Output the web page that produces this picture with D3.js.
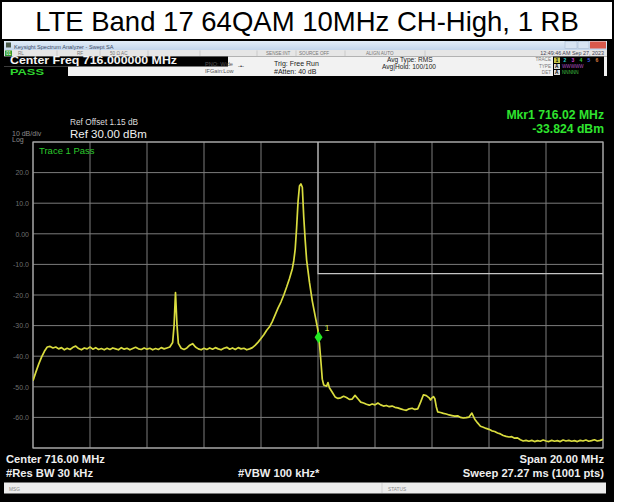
<!DOCTYPE html>
<html>
<head>
<meta charset="utf-8">
<script src="https://cdn.jsdelivr.net/npm/d3@7"></script>
<style>
  html, body { margin: 0; padding: 0; background: #fff; }
  svg { display: block; font-family: "Liberation Sans", Arial, sans-serif; }
</style>
</head>
<body>
<svg id="chart" width="629" height="503"></svg>
<script>
// ---- chart values ----
const chartTitle = "LTE Band 17 64QAM 10MHz CH-High, 1 RB";
const freqDomain = [706, 726];          // start / stop frequency, MHz
const levelDomain = [-70, 30];          // bottom / reference level, dBm
const freqGrid = [706, 708, 710, 712, 714, 716, 718, 720, 722, 724, 726];
const levelGrid = [30, 20, 10, 0, -10, -20, -30, -40, -50, -60, -70];
const levelTickValues = [20, 10, 0, -10, -20, -30, -40, -50, -60];
const levelTickLabels = ["20.0", "10.0", "0.00", "-10.0", "-20.0", "-30.0", "-40.0", "-50.0", "-60.0"];

// measured trace: [frequency MHz, level dBm]
const sweep = [
  [706.0, -48.0], [706.1, -45.2], [706.2, -42.6], [706.3, -40.3], [706.4, -38.4],
  [706.5, -37.0], [706.6, -36.8], [706.7, -37.3], [706.8, -37.0], [706.9, -37.6],
  [707.0, -37.2], [707.1, -37.9], [707.2, -37.4], [707.3, -37.8], [707.4, -37.1],
  [707.5, -36.7], [707.6, -37.5], [707.7, -37.9], [707.8, -37.3], [707.9, -37.6],
  [708.0, -37.0], [708.1, -37.7], [708.2, -37.2], [708.3, -37.8], [708.4, -37.5],
  [708.5, -37.9], [708.6, -37.4], [708.7, -37.8], [708.8, -37.3], [708.9, -37.6],
  [709.0, -37.9], [709.1, -37.2], [709.2, -37.7], [709.3, -37.4], [709.4, -37.9],
  [709.5, -37.5], [709.6, -37.1], [709.7, -37.6], [709.8, -37.8], [709.9, -37.3],
  [710.0, -37.7], [710.1, -37.4], [710.2, -37.9], [710.3, -37.5], [710.4, -37.8],
  [710.5, -37.2], [710.6, -37.6], [710.7, -37.3], [710.8, -37.0], [710.9, -35.5],
  [710.95, -30.0], [711.0, -19.2], [711.05, -29.5], [711.1, -35.8], [711.2, -37.4],
  [711.3, -37.8], [711.4, -37.3], [711.5, -36.4], [711.6, -35.9], [711.7, -37.0],
  [711.8, -37.6], [711.9, -37.9], [712.0, -37.4], [712.1, -37.8], [712.2, -37.3],
  [712.3, -37.7], [712.4, -37.2], [712.5, -37.6], [712.6, -37.9], [712.7, -37.4],
  [712.8, -37.1], [712.9, -37.7], [713.0, -37.3], [713.1, -37.8], [713.2, -37.2],
  [713.3, -37.6], [713.4, -37.4], [713.5, -37.9], [713.6, -37.6], [713.7, -37.2],
  [713.8, -36.4], [713.9, -35.4], [714.0, -34.2], [714.1, -33.0], [714.2, -31.5],
  [714.3, -30.4], [714.4, -28.6], [714.5, -26.4], [714.6, -24.2], [714.7, -22.3],
  [714.8, -20.0], [714.9, -17.4], [715.0, -14.6], [715.1, -11.4], [715.15, -8.8],
  [715.2, -5.0], [715.25, 2.0], [715.3, 10.5], [715.35, 15.6], [715.4, 16.3],
  [715.45, 15.2], [715.5, 5.5], [715.55, -2.0], [715.6, -8.5], [715.7, -15.8],
  [715.8, -22.0], [715.9, -26.8], [716.0, -31.6], [716.02, -33.824], [716.05, -35.8],
  [716.1, -41.5], [716.15, -47.5], [716.2, -49.4], [716.3, -49.8], [716.35, -48.6],
  [716.4, -50.3], [716.5, -51.8], [716.6, -53.3], [716.7, -53.8], [716.8, -53.6],
  [716.9, -53.1], [717.0, -53.5], [717.1, -54.1], [717.2, -54.0], [717.3, -52.8],
  [717.4, -53.9], [717.5, -55.0], [717.6, -55.3], [717.7, -55.7], [717.8, -56.0],
  [717.9, -55.6], [718.0, -55.9], [718.1, -55.3], [718.2, -55.9], [718.3, -56.3],
  [718.4, -56.1], [718.5, -56.5], [718.6, -56.3], [718.7, -56.7], [718.8, -56.9],
  [718.9, -57.2], [719.0, -57.5], [719.1, -57.7], [719.2, -57.2], [719.3, -57.0],
  [719.4, -57.4], [719.5, -57.2], [719.6, -55.0], [719.7, -52.6], [719.8, -52.9],
  [719.9, -53.6], [719.95, -54.3], [720.0, -53.6], [720.05, -53.2], [720.1, -53.9],
  [720.15, -56.5], [720.2, -58.2], [720.3, -58.4], [720.4, -58.7], [720.5, -58.9],
  [720.6, -59.2], [720.7, -59.4], [720.8, -59.6], [720.9, -59.5], [721.0, -60.0],
  [721.1, -60.2], [721.2, -60.1], [721.3, -59.9], [721.4, -58.6], [721.5, -60.6],
  [721.6, -61.8], [721.7, -62.9], [721.8, -63.2], [721.9, -63.6], [722.0, -63.9],
  [722.1, -64.4], [722.2, -64.6], [722.3, -65.1], [722.4, -65.4], [722.5, -65.9],
  [722.6, -66.2], [722.7, -66.4], [722.8, -66.3], [722.9, -66.8], [723.0, -66.7],
  [723.1, -67.3], [723.2, -67.7], [723.3, -67.5], [723.4, -67.8], [723.5, -67.5],
  [723.6, -67.9], [723.7, -67.6], [723.8, -67.8], [723.9, -67.4], [724.0, -67.7],
  [724.1, -67.9], [724.2, -67.5], [724.3, -67.8], [724.4, -67.6], [724.5, -67.9],
  [724.6, -67.4], [724.7, -67.7], [724.8, -67.5], [724.9, -67.8], [725.0, -67.6],
  [725.1, -67.9], [725.2, -67.5], [725.3, -67.7], [725.4, -67.4], [725.5, -67.8],
  [725.6, -67.6], [725.7, -67.3], [725.8, -67.7], [725.9, -67.5], [726.0, -67.2]
];

// emission limit line (-13 dBm above the channel edge)
const limitFreq = [716, 716, 726];
const limitLevel = [30, -13, -13];

const markerFreq = 716.02;
const markerLevel = -33.824;
const markerId = "1";

// ---- drawing ----
const svg = d3.select("#chart");
const plot = { left: 33, right: 603, top: 142, bottom: 448 };

const x = d3.scaleLinear().domain(freqDomain).range([plot.left, plot.right]);
const y = d3.scaleLinear().domain(levelDomain).range([plot.bottom, plot.top]);

// page, frame and heading
svg.append("rect").attr("width", 629).attr("height", 503).attr("fill", "#fff");
svg.append("rect").attr("x", 1).attr("y", 39).attr("width", 611).attr("height", 461).attr("fill", "#000");
svg.append("rect").attr("x", 1).attr("y", 1).attr("width", 612).attr("height", 500)
  .attr("fill", "none").attr("stroke", "#000").attr("stroke-width", 2);
svg.append("text").attr("x", 307).attr("y", 31).attr("text-anchor", "middle")
  .attr("font-size", 27.5).attr("fill", "#000").text(chartTitle);

// window title bar
const defs = svg.append("defs");
const tb = defs.append("linearGradient").attr("id", "titleBar").attr("x1", 0).attr("x2", 0).attr("y1", 0).attr("y2", 1);
tb.append("stop").attr("offset", "0%").attr("stop-color", "#e3edf8");
tb.append("stop").attr("offset", "100%").attr("stop-color", "#c3d6ec");
svg.append("rect").attr("x", 4).attr("y", 41).attr("width", 603).attr("height", 9).attr("fill", "url(#titleBar)");
svg.append("rect").attr("x", 6).attr("y", 42.5).attr("width", 5).attr("height", 5).attr("fill", "#4a5a4a");
svg.append("text").attr("x", 14).attr("y", 48.5).attr("font-size", 5.6).attr("fill", "#3a4a66")
  .text("Keysight Spectrum Analyzer - Swept SA");
svg.append("rect").attr("x", 565).attr("y", 41.5).attr("width", 12).attr("height", 7).attr("fill", "#d8e4f2").attr("stroke", "#9fb3cc").attr("stroke-width", 0.5);
svg.append("rect").attr("x", 578).attr("y", 41.5).attr("width", 11).attr("height", 7).attr("fill", "#d8e4f2").attr("stroke", "#9fb3cc").attr("stroke-width", 0.5);
svg.append("rect").attr("x", 590).attr("y", 41.5).attr("width", 16).attr("height", 7).attr("fill", "#d9584c");

// status row
svg.append("rect").attr("x", 4).attr("y", 50).attr("width", 603).attr("height", 6.5).attr("fill", "#e6e6e6");
svg.append("rect").attr("x", 5).attr("y", 50.5).attr("width", 7).attr("height", 5.5).attr("fill", "#2c9a2c");
svg.append("text").attr("x", 6).attr("y", 54.8).attr("font-size", 4.5).attr("fill", "#fff").text("01");
const rowItems = [["RL", 18], ["RF", 77], ["50 Ω  AC", 110], ["SENSE:INT", 266], ["SOURCE OFF", 299], ["ALIGN AUTO", 366]];
rowItems.forEach(([t, px]) => svg.append("text").attr("x", px).attr("y", 54.8).attr("font-size", 4.6).attr("fill", "#777").text(t));
[57, 100, 148, 200, 257, 296, 345, 425].forEach(px =>
  svg.append("line").attr("x1", px).attr("x2", px).attr("y1", 50.5).attr("y2", 56).attr("stroke", "#b8b8b8").attr("stroke-width", 0.6));
svg.append("text").attr("x", 604).attr("y", 54.8).attr("text-anchor", "end").attr("font-size", 5.4).attr("fill", "#445").text("12:49:46 AM Sep 27, 2023");

// settings panel
svg.append("rect").attr("x", 4).attr("y", 56.5).attr("width", 603).attr("height", 19.5).attr("fill", "#f2f2f2");
svg.append("rect").attr("x", 4).attr("y", 56.5).attr("width", 224).attr("height", 10).attr("fill", "#000");
svg.append("rect").attr("x", 4).attr("y", 66.5).attr("width", 64).attr("height", 9.5).attr("fill", "#000");
svg.append("text").attr("x", 10).attr("y", 64.2).attr("font-size", 10.4).attr("font-weight", "bold").attr("fill", "#f4f4f4")
  .attr("textLength", 167).attr("lengthAdjust", "spacingAndGlyphs")
  .text("Center Freq 716.000000 MHz");
svg.append("text").attr("x", 10).attr("y", 75.2).attr("font-size", 9.6).attr("font-weight", "bold").attr("fill", "#2fd52f")
  .attr("textLength", 34).attr("lengthAdjust", "spacingAndGlyphs").text("PASS");
svg.append("text").attr("x", 205).attr("y", 66).attr("font-size", 5.6).attr("fill", "#555").text("PNO: Wide");
svg.append("text").attr("x", 205).attr("y", 73).attr("font-size", 5.6).attr("fill", "#555").text("IFGain:Low");
svg.append("text").attr("x", 238).attr("y", 67.5).attr("font-size", 6).attr("fill", "#333").text("-•-");
svg.append("text").attr("x", 274).attr("y", 65.5).attr("font-size", 7).attr("fill", "#222").text("Trig: Free Run");
svg.append("text").attr("x", 274).attr("y", 73.5).attr("font-size", 7).attr("fill", "#222").text("#Atten: 40 dB");
svg.append("text").attr("x", 387).attr("y", 62).attr("font-size", 6.6).attr("fill", "#222").text("Avg Type: RMS");
svg.append("text").attr("x", 382).attr("y", 69).attr("font-size", 6.6).attr("fill", "#222").text("Avg|Hold: 100/100");

// trace legend block
[["TRACE", 61], ["TYPE", 67.5], ["DET", 74]].forEach(([t, py]) =>
  svg.append("text").attr("x", 551).attr("y", py).attr("text-anchor", "end").attr("font-size", 4.6).attr("fill", "#777").text(t));
svg.append("rect").attr("x", 553).attr("y", 56.5).attr("width", 51).attr("height", 19.5).attr("fill", "#000");
svg.append("rect").attr("x", 554).attr("y", 57.5).attr("width", 6).attr("height", 5.5).attr("fill", "#c8c84a");
const traceDigits = [["1", "#000"], ["2", "#2ad4d4"], ["3", "#d040d0"], ["4", "#40d040"], ["5", "#4060f0"], ["6", "#e08040"]];
traceDigits.forEach(([t, c], i) =>
  svg.append("text").attr("x", 555.5 + i * 8).attr("y", 62.2).attr("font-size", 5).attr("font-weight", "bold").attr("fill", c).text(t));
svg.append("rect").attr("x", 554).attr("y", 64).attr("width", 6).attr("height", 5).attr("fill", "#ddd");
svg.append("text").attr("x", 555).attr("y", 68.4).attr("font-size", 4.8).attr("font-weight", "bold").attr("fill", "#000").text("A");
svg.append("text").attr("x", 562).attr("y", 68.4).attr("font-size", 4.6).attr("fill", "#b050c0").text("WWWWW");
svg.append("rect").attr("x", 554).attr("y", 70).attr("width", 6).attr("height", 5).attr("fill", "#ddd");
svg.append("text").attr("x", 555).attr("y", 74.4).attr("font-size", 4.8).attr("font-weight", "bold").attr("fill", "#000").text("A");
svg.append("text").attr("x", 562).attr("y", 74.4).attr("font-size", 4.6).attr("fill", "#40c040").text("NNNNN");

// reference annotations
svg.append("text").attr("x", 70).attr("y", 125).attr("font-size", 8.3).attr("fill", "#dcdcdc").text("Ref Offset 1.15 dB");
svg.append("text").attr("x", 70).attr("y", 137.5).attr("font-size", 11.5).attr("fill", "#f0f0f0").text("Ref 30.00 dBm");
svg.append("text").attr("x", 12).attr("y", 135.5).attr("font-size", 7).attr("fill", "#8a8a8a").text("10 dB/div");
svg.append("text").attr("x", 12).attr("y", 142).attr("font-size", 7).attr("fill", "#8a8a8a").text("Log");
svg.append("text").attr("x", 604).attr("y", 118.5).attr("text-anchor", "end").attr("font-size", 12.2)
  .attr("font-weight", "bold").attr("fill", "#2fe42f").text("Mkr1 716.02 MHz");
svg.append("text").attr("x", 604).attr("y", 132.5).attr("text-anchor", "end").attr("font-size", 12.2)
  .attr("font-weight", "bold").attr("fill", "#2fe42f").text("-33.824 dBm");

// graticule
const grid = svg.append("g");
grid.selectAll("line.v").data(freqGrid).join("line")
  .attr("x1", d => x(d)).attr("x2", d => x(d))
  .attr("y1", plot.top).attr("y2", plot.bottom)
  .attr("stroke", "#7c7c7c").attr("stroke-width", 1);
grid.selectAll("line.h").data(levelGrid).join("line")
  .attr("x1", plot.left).attr("x2", plot.right)
  .attr("y1", d => y(d)).attr("y2", d => y(d))
  .attr("stroke", "#7c7c7c").attr("stroke-width", 1);
grid.append("rect").attr("x", plot.left).attr("y", plot.top)
  .attr("width", plot.right - plot.left).attr("height", plot.bottom - plot.top)
  .attr("fill", "none").attr("stroke", "#a8a8a8").attr("stroke-width", 1.2);

// level axis labels
const yAxis = d3.axisLeft(y).tickValues(levelTickValues).tickSize(0).tickPadding(4)
  .tickFormat((d, i) => levelTickLabels[i]);
const yAxisG = svg.append("g").attr("transform", `translate(${plot.left},0)`).call(yAxis);
yAxisG.select(".domain").remove();
yAxisG.selectAll("text").attr("font-size", 7).attr("fill", "#6e6e6e")
  .attr("font-family", "'Liberation Sans', Arial, sans-serif");

svg.append("text").attr("x", 39).attr("y", 153.5).attr("font-size", 9.5).attr("fill", "#2cc82c").text("Trace 1 Pass");

// clip region for the data
defs.append("clipPath").attr("id", "plotClip").append("rect")
  .attr("x", plot.left).attr("y", plot.top)
  .attr("width", plot.right - plot.left).attr("height", plot.bottom - plot.top);
const data = svg.append("g").attr("clip-path", "url(#plotClip)");

// limit line
const limitPts = limitFreq.map((f, i) => [f, limitLevel[i]]);
data.append("path").datum(limitPts)
  .attr("d", d3.line().x(d => x(d[0])).y(d => y(d[1])))
  .attr("fill", "none").attr("stroke", "#c4c4c4").attr("stroke-width", 1.1);

// trace
data.append("path").datum(sweep)
  .attr("d", d3.line().x(d => x(d[0])).y(d => y(d[1])))
  .attr("fill", "none").attr("stroke", "#d9dc3e").attr("stroke-width", 1.7)
  .attr("stroke-linejoin", "round");

// marker 1
const mx = x(markerFreq), my = y(markerLevel);
svg.append("path")
  .attr("d", `M${mx},${my - 6} L${mx + 4},${my} L${mx},${my + 6} L${mx - 4},${my} Z`)
  .attr("fill", "#22ea22");
svg.append("text").attr("x", mx + 6).attr("y", my - 6).attr("font-size", 9).attr("fill", "#cfe24a").text(markerId);

// footer annotations
svg.append("text").attr("x", 6).attr("y", 463).attr("font-size", 11.2).attr("font-weight", "bold").attr("fill", "#eeeeee").text("Center 716.00 MHz");
svg.append("text").attr("x", 6).attr("y", 476.5).attr("font-size", 11.2).attr("font-weight", "bold").attr("fill", "#eeeeee").text("#Res BW 30 kHz");
svg.append("text").attr("x", 238).attr("y", 476.5).attr("font-size", 11.2).attr("font-weight", "bold").attr("fill", "#eeeeee").text("#VBW 100 kHz*");
svg.append("text").attr("x", 604).attr("y", 463).attr("text-anchor", "end").attr("font-size", 11.2).attr("font-weight", "bold").attr("fill", "#eeeeee").text("Span 20.00 MHz");
svg.append("text").attr("x", 604).attr("y", 476.5).attr("text-anchor", "end").attr("font-size", 11.2).attr("font-weight", "bold").attr("fill", "#eeeeee").text("Sweep  27.27 ms (1001 pts)");

// message / status bar
svg.append("rect").attr("x", 4).attr("y", 482.5).attr("width", 602).attr("height", 11).attr("fill", "#ececec");
svg.append("line").attr("x1", 382).attr("x2", 382).attr("y1", 483).attr("y2", 493).attr("stroke", "#c4c4c4").attr("stroke-width", 0.6);
svg.append("text").attr("x", 9).attr("y", 490.5).attr("font-size", 4.8).attr("fill", "#888").text("MSG");
svg.append("text").attr("x", 388).attr("y", 490.5).attr("font-size", 4.8).attr("fill", "#888").text("STATUS");
</script>
</body>
</html>
